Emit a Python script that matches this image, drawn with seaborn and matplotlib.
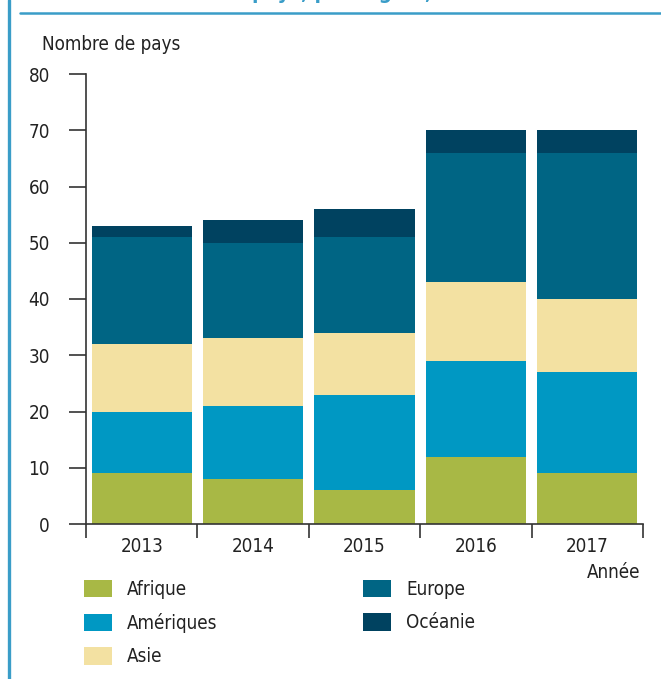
import numpy as np
import pandas as pd
import matplotlib
matplotlib.use("Agg")
import matplotlib.pyplot as plt
from matplotlib.patches import Patch
from matplotlib.lines import Line2D
import seaborn as sns

# --- Data (number of countries per region and year) ---
years = ["2013", "2014", "2015", "2016", "2017"]
regions = ["Afrique", "Amériques", "Asie", "Europe", "Océanie"]
afrique = [9, 8, 6, 12, 9]
ameriques = [11, 13, 17, 17, 18]
asie = [12, 12, 11, 14, 13]
europe = [19, 17, 17, 23, 26]
oceanie = [2, 4, 5, 4, 4]
y_ticks = [0, 10, 20, 30, 40, 50, 60, 70, 80]

colors = ["#A8B845", "#0098C3", "#F3E1A2", "#006584", "#004260"]
frame_blue = "#3A9DC8"
text_col = "#222222"
axis_col = "#333333"

sns.set_style("white")
plt.rcParams["font.family"] = ["DejaVu Sans"]
plt.rcParams["font.stretch"] = "condensed"

df = pd.DataFrame({"year": years, "Afrique": afrique, "Amériques": ameriques,
                   "Asie": asie, "Europe": europe, "Océanie": oceanie})
cum = df[regions].cumsum(axis=1)
cum["year"] = years

fig = plt.figure(figsize=(6.61, 6.79), dpi=100)
W, H = 661, 679
ax = fig.add_axes([86 / W, 1 - 524 / H, (643 - 86) / W, (524 - 74) / H])

# stacked bars: draw cumulative totals from the top series down
for reg, col in reversed(list(zip(regions, colors))):
    sns.barplot(data=cum, x="year", y=reg, order=years, color=col,
                saturation=1, width=0.9, ax=ax, edgecolor="none", linewidth=0)

ax.set_xlim(-0.5, 4.5)
ax.set_ylim(0, 80)
ax.set_yticks(y_ticks)
ax.set_xlabel("")
ax.set_ylabel("")
for s in ["top", "right"]:
    ax.spines[s].set_visible(False)
for s in ["left", "bottom"]:
    ax.spines[s].set_color(axis_col)
    ax.spines[s].set_linewidth(1.2)

ax.tick_params(axis="y", length=12, width=1.2, color=axis_col, labelsize=13.5,
               labelcolor=text_col, pad=14, direction="out", left=True)
ax.tick_params(axis="x", which="major", length=0, labelsize=13.5,
               labelcolor=text_col, pad=9)
ax.set_xticks(np.arange(-0.5, 5, 1), minor=True)
ax.tick_params(axis="x", which="minor", length=10, width=1.2, color=axis_col,
               direction="out", bottom=True)

fig.text(42 / W, 1 - 50 / H, "Nombre de pays", fontsize=13.5, color=text_col,
         ha="left", va="baseline")
fig.text(640 / W, 1 - 578 / H, "Année", fontsize=13.5, color=text_col,
         ha="right", va="baseline")

# title mostly above the figure edge, as in the cropped reference
fig.text(340 / W, 1 + 1 / H, "Nombre de pays, par région, 2013-2017",
         fontsize=15, fontweight="bold", color=frame_blue, ha="center",
         va="baseline")
fig.add_artist(Line2D([20 / W, 1], [1 - 13 / H, 1 - 13 / H],
                      color=frame_blue, linewidth=1.8, transform=fig.transFigure))
fig.add_artist(Line2D([8.5 / W, 8.5 / W], [0, 1], color=frame_blue,
                      linewidth=2.4, transform=fig.transFigure))

handles = [Patch(facecolor=c, edgecolor="none", label=r)
           for r, c in zip(regions, colors)]
fig.legend(handles=handles, loc="upper left",
           bbox_to_anchor=(84 / W, 1 - 580 / H), ncol=2, frameon=False,
           fontsize=13.5, handlelength=1.5, handleheight=1.05,
           handletextpad=0.8, labelspacing=0.75, columnspacing=7.75,
           borderpad=0, borderaxespad=0, labelcolor=text_col)

fig.savefig("out.png", dpi=100)
